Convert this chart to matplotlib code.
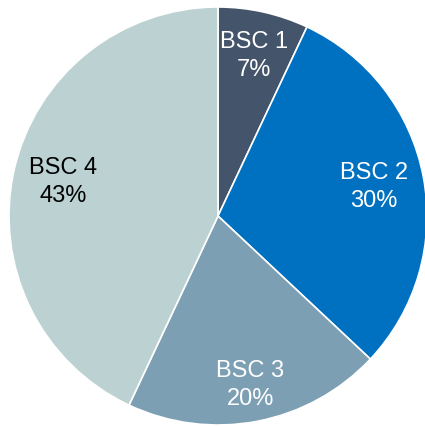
import numpy as np
import matplotlib
matplotlib.use("Agg")
import matplotlib.pyplot as plt

labels = ["BSC 1", "BSC 2", "BSC 3", "BSC 4"]
shares = [7, 30, 20, 43]
colors = ["#44546A", "#0070C0", "#7C9FB3", "#BBD1D2"]
text_colors = ["white", "white", "white", "black"]
label_radius = [0.79, 0.76, 0.82, 0.76]

plt.rcParams["font.family"] = ["Liberation Sans", "DejaVu Sans"]

fig = plt.figure(figsize=(4.25, 4.27), dpi=100)
ax = fig.add_axes([0, 0, 1, 1])

wedges, _ = ax.pie(
    shares,
    colors=colors,
    startangle=90,
    counterclock=False,
    radius=1.0,
    wedgeprops=dict(edgecolor="white", linewidth=1.2),
)

for w, lab, val, tc, r in zip(wedges, labels, shares, text_colors, label_radius):
    ang = np.deg2rad((w.theta1 + w.theta2) / 2)
    ax.text(r * np.cos(ang), r * np.sin(ang), f"{lab}\n{val}%",
            ha="center", va="center", fontsize=17, color=tc, linespacing=1.35)

# pie centre sits at (218, 217) px, radius 209 px
R = 209.0
ax.set_xlim(-218 / R, (425 - 218) / R)
ax.set_ylim(-(427 - 217) / R, 217 / R)
ax.set_aspect("auto")
ax.axis("off")

fig.savefig("out.png", dpi=100)
